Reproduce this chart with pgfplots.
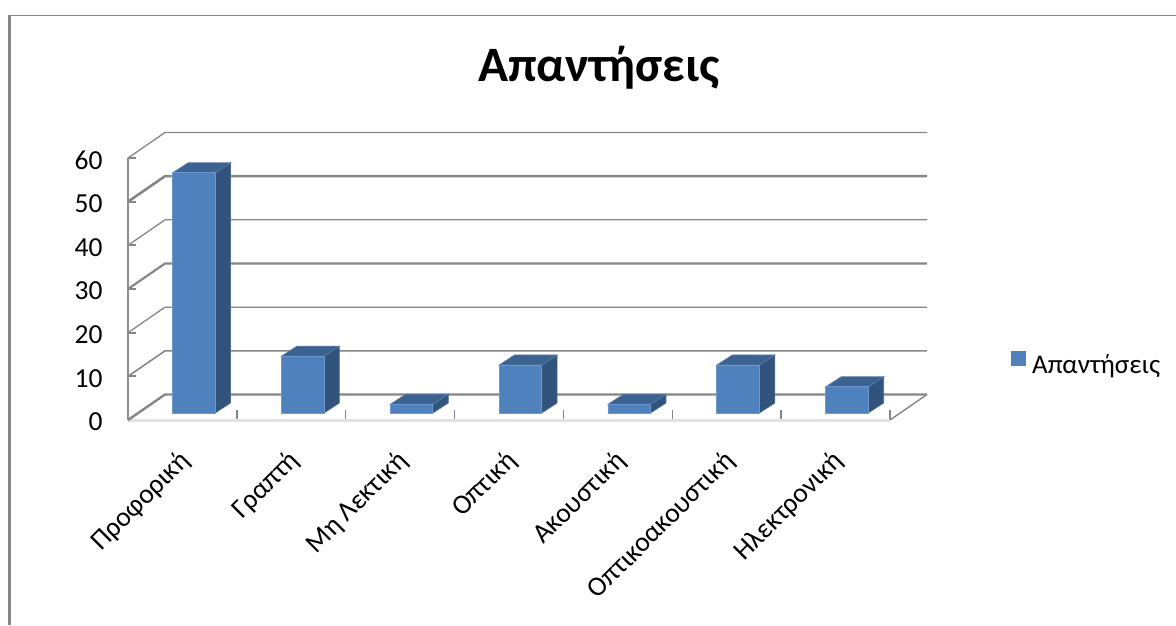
\documentclass[border=0pt]{standalone}
\usepackage{fontspec}
\setmainfont{Carlito}
\usepackage{pgfplots}
\usepackage{pgfplotstable}
\pgfplotsset{compat=1.18}

\definecolor{framegray}{HTML}{868686}
\definecolor{axisgray}{HTML}{8E8E8E}
\definecolor{floorband}{HTML}{E2E2E2}
\definecolor{barfront}{HTML}{4F81BD}
\definecolor{barside}{HTML}{32547C}
\definecolor{bartop}{HTML}{3B6290}
\definecolor{baredge}{HTML}{6C98CF}

% position of each column and number of answers
\pgfplotstableread{
idx pos value
0 0.5 55
1 1.5 13
2 2.5 2
3 3.5 11
4 4.5 2
5 5.5 11
6 6.5 6
}\answers

% depth of the chart box and of the columns, in data units
\newcommand{\walldx}{0.34}
\newcommand{\walldy}{5.84}
\newcommand{\baseoff}{1.6}
\newcommand{\bardx}{0.142}
\newcommand{\bardy}{2.3}

% one gridline: along the side wall, then along the back wall
\newcommand{\wallline}[2]{%
  \pgfmathsetmacro{\wy}{#1+\walldy}%
  \edef\drawit{\noexpand\addplot[forget plot,framegray,line width=#2pt]
    coordinates {(0,#1) (\walldx,\wy) (7.34,\wy)};}\drawit
}

\begin{document}
\begin{tikzpicture}[x=1pt,y=1pt]
\path[use as bounding box] (-128,-205) rectangle (1048,420);
\begin{axis}[
  at={(0,0)}, anchor=south west,
  scale only axis, width=762pt, height=262pt,
  xmin=0, xmax=7, ymin=0, ymax=60,
  clip=false,
  axis lines*=left,
  axis line style={axisgray,line width=2.6pt},
  x axis line style={floorband,line width=3pt},
  xtick={0.5,1.5,2.5,3.5,4.5,5.5,6.5},
  xticklabels={Προφορική,Γραπτή,Μη Λεκτική,Οπτική,Ακουστική,Οπτικοακουστική,Ηλεκτρονική},
  minor xtick={0,1,2,3,4,5,6,7},
  major x tick style={draw=none},
  minor x tick style={framegray,line width=1.5pt},
  minor tick length=10pt,
  ytick={0,10,20,30,40,50,60},
  y tick style={framegray,line width=2pt},
  major tick length=8pt,
  /pgf/number format/assume math mode=true,
  tick label style={font=\fontsize{27.5}{27.5}\selectfont,black},
  x tick label style={rotate=45,anchor=north east,inner sep=0pt,xshift=-23.2pt,yshift=-16.3pt},
  y tick label style={xshift=-22pt,yshift=-2pt},
  title={\bfseries Απαντήσεις},
  title style={at={(0.618,1.32)},anchor=center,inner sep=0pt,font=\fontsize{49.5}{49.5}\selectfont},
  legend style={at={(1.159,0.214)},anchor=west,draw=none,fill=none,
    font=\fontsize{27}{27}\selectfont,inner sep=0pt,
    /tikz/every even column/.style={column sep=0pt}},
  legend image code/.code={\fill[barfront] (0pt,-7pt) rectangle (14pt,7pt);},
]
% floor edge and back wall gridlines
\addplot[forget plot,framegray,line width=1.4pt] coordinates {(7,0) (7.34,5.84)};
\wallline{0}{2.4}
\wallline{10}{1.6}
\wallline{20}{1.3}
\wallline{30}{2.2}
\wallline{40}{1.3}
\wallline{50}{2.6}
\wallline{60}{1.3}

% side and top faces of the columns
\pgfplotsinvokeforeach{0,1,2,3,4,5,6}{
  \pgfplotstablegetelem{#1}{value}\of\answers
  \pgfmathsetmacro{\xl}{#1+0.41}
  \pgfmathsetmacro{\xr}{#1+0.80}
  \pgfmathsetmacro{\xlb}{\xl+\bardx}
  \pgfmathsetmacro{\xrb}{\xr+\bardx}
  \pgfmathsetmacro{\yb}{\baseoff}
  \pgfmathsetmacro{\ybb}{\baseoff+\bardy}
  \pgfmathsetmacro{\yt}{\pgfplotsretval+\baseoff}
  \pgfmathsetmacro{\ytb}{\yt+\bardy}
  \edef\drawit{\noexpand\addplot[forget plot,fill=barside,draw=barside!85!white,line width=0.7pt]
    coordinates {(\xr,\yb) (\xrb,\ybb) (\xrb,\ytb) (\xr,\yt)} -- cycle;
    \noexpand\addplot[forget plot,fill=bartop,draw=bartop!85!white,line width=0.7pt]
    coordinates {(\xl,\yt) (\xr,\yt) (\xrb,\ytb) (\xlb,\ytb)} -- cycle;}
  \drawit
}

% front faces, lifted off the floor by the column's distance from the front edge
\addplot[ybar,bar width=42.5pt,bar shift=11.4pt,yshift=7pt,
  fill=barfront,draw=baredge,line width=0.8pt]
  table[x=pos,y=value] {\answers};
\addlegendentry{\hspace{4pt}Απαντήσεις}
\end{axis}

% outer chart frame
\draw[framegray,line width=1.4pt] (-119.5,404.5) -- (1048,404.5);
\draw[framegray,line width=3pt] (-118.5,405) -- (-118.5,-205);
\end{tikzpicture}
\end{document}
